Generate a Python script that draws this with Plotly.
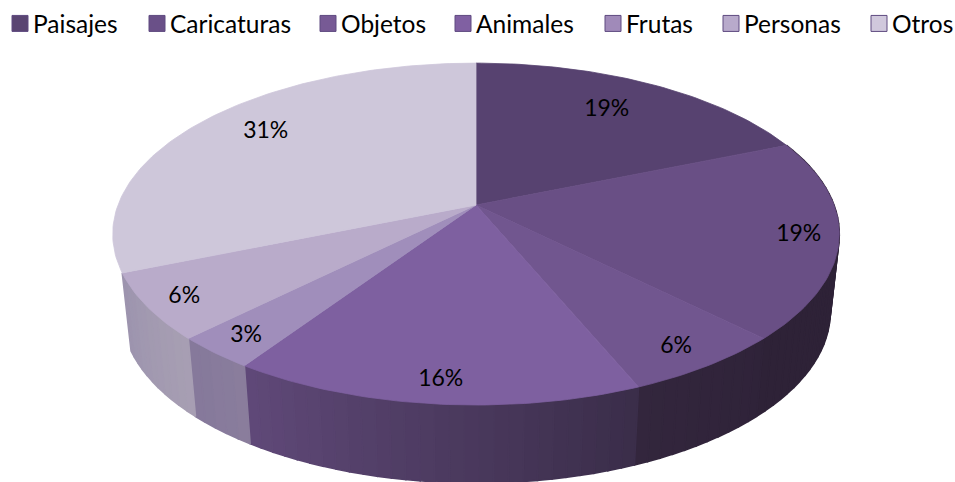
import math
import plotly.graph_objects as go

categories = ["Paisajes", "Caricaturas", "Objetos", "Animales", "Frutas", "Personas", "Otros"]
values = [6, 6, 2, 5, 1, 2, 10]
top_colors = ["#574270", "#694f85", "#71568f", "#7e60a0", "#a08ebb", "#b9abca", "#cec7da"]
swatch_colors = ["#5a4572", "#6a5088", "#775a95", "#8060a2", "#a08ab9", "#b8aacb", "#d0c8dc"]
# wall shade at the start and end of each slice, clockwise (None: wall not shown)
wall_colors = [
    None,
    ("#2d2136", "#2e2237"),
    ("#2f2339", "#33263d"),
    ("#3a2d49", "#604979"),
    ("#8a7e9c", "#85789b"),
    ("#a79fb3", "#9d94ae"),
    None,
]
label_radius = [0.78, 0.9, 0.9, 0.9, 0.9, 0.9, 0.78]
label_nudge = [(-9, 2), (-3, 0), (-5, 0), (2, 0), (2, 0), (1, 2), (6, -6)]
legend_pitch = [137, 171, 135, 150, 118, 148, 96]

CX, CY = 476, 205
A, B, K = 166, 358, 0.17
DEPTH, BASE_SCALE = 78, 0.975


def project(angle, r=1.0, lower=False):
    u, v = r * math.sin(angle), -r * math.cos(angle)
    s = BASE_SCALE if lower else 1.0
    w = 1 - K * v
    return CX + s * B * u / w, CY + A * v / w + (DEPTH if lower else 0)


def mix(c1, c2, t):
    a = [int(c1[i:i + 2], 16) for i in (1, 3, 5)]
    b = [int(c2[i:i + 2], 16) for i in (1, 3, 5)]
    return "rgb(%d,%d,%d)" % tuple(round(p + (q - p) * t) for p, q in zip(a, b))


total = sum(values)
edges = [0.0]
for val in values:
    edges.append(edges[-1] + val / total * 2 * math.pi)

fig = go.Figure()

# side wall, drawn as thin strips so it can carry a shade
for i in range(len(values)):
    if wall_colors[i] is None:
        continue
    a0, a1 = edges[i], edges[i + 1]
    steps = max(2, int(math.degrees(a1 - a0) / 2))
    for j in range(steps):
        s0 = a0 + (a1 - a0) * j / steps
        s1 = a0 + (a1 - a0) * (j + 1) / steps
        pts_top = [project(s0), project(s1)]
        pts_low = [project(s1, lower=True), project(s0, lower=True)]
        poly = pts_top + pts_low + pts_top[:1]
        col = mix(wall_colors[i][0], wall_colors[i][1], (j + 0.5) / steps)
        fig.add_trace(go.Scatter(
            x=[p[0] for p in poly], y=[p[1] for p in poly], mode="lines",
            fill="toself", fillcolor=col, line=dict(color=col, width=1.6),
            showlegend=False, hoverinfo="skip"))

# top face
for i, cat in enumerate(categories):
    a0, a1 = edges[i], edges[i + 1]
    n = max(6, int(math.degrees(a1 - a0)))
    rim = [project(a0 + (a1 - a0) * j / n) for j in range(n + 1)]
    poly = [(CX, CY)] + rim + [(CX, CY)]
    fig.add_trace(go.Scatter(
        x=[p[0] for p in poly], y=[p[1] for p in poly], mode="lines",
        fill="toself", fillcolor=top_colors[i], line=dict(color=top_colors[i], width=0.8),
        name=cat, showlegend=False, hoverinfo="skip"))

# labels
lab = [project((edges[i] + edges[i + 1]) / 2, label_radius[i]) for i in range(len(values))]
fig.add_trace(go.Scatter(
    x=[p[0] + d[0] for p, d in zip(lab, label_nudge)],
    y=[p[1] + d[1] for p, d in zip(lab, label_nudge)], mode="text",
    text=["%d%%" % round(v / total * 100) for v in values],
    textposition="middle center", textfont=dict(family="Lato", size=23, color="#000000"),
    showlegend=False, hoverinfo="skip"))

# legend entries
for i, cat in enumerate(categories):
    fig.add_trace(go.Scatter(
        x=[None], y=[None], mode="markers", name=cat,
        marker=dict(symbol="square", size=16, color=swatch_colors[i], angle=90, standoff=7,
                    line=dict(color="#5f4a80", width=1)),
        legendwidth=max(legend_pitch[i] - 38, 10)))

fig.update_layout(
    width=955, height=482, margin=dict(l=0, r=0, t=0, b=0),
    paper_bgcolor="white", plot_bgcolor="white",
    xaxis=dict(range=[0, 955], visible=False, fixedrange=True),
    yaxis=dict(range=[482, 0], visible=False, fixedrange=True),
    legend=dict(orientation="h", x=0, y=1 - 1 / 482, xanchor="left", yanchor="top",
                indentation=-7, font=dict(family="Lato", size=24.5, color="#000000"),
                bgcolor="rgba(0,0,0,0)"),
)
fig.write_html("out.html", config={"displayModeBar": False},
               post_script="document.body.style.margin='0';")
